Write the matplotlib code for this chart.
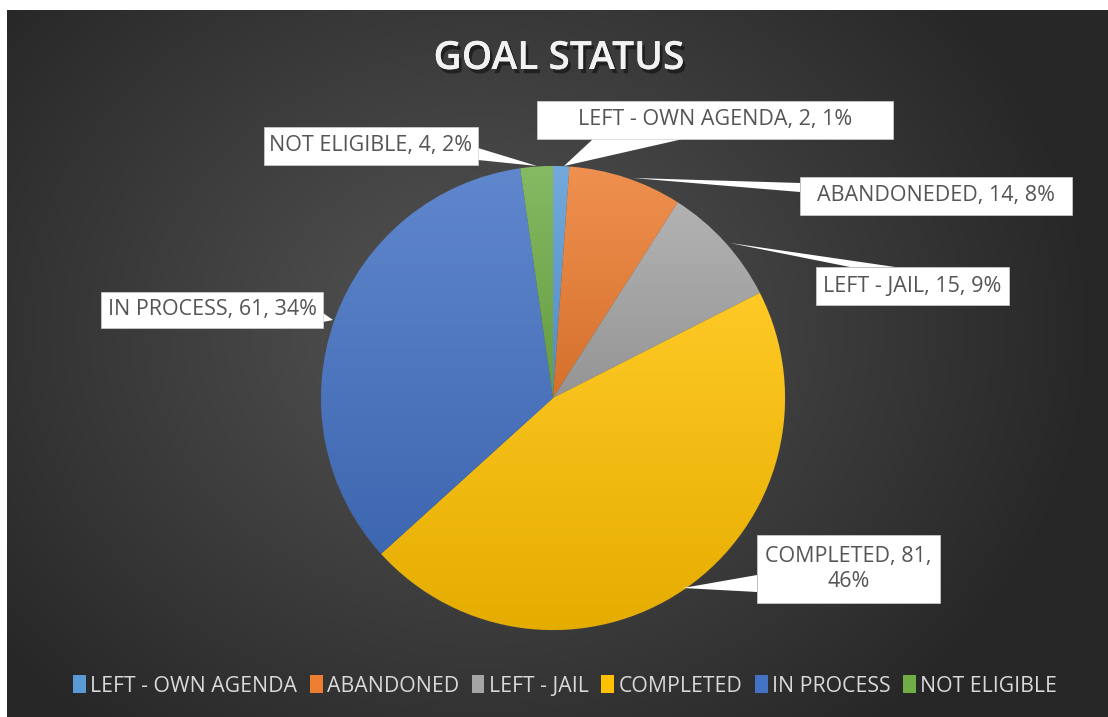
import numpy as np
import matplotlib
matplotlib.use("Agg")
import matplotlib.pyplot as plt
from matplotlib.patches import Polygon, Rectangle
from matplotlib import patheffects as pe
from matplotlib.colors import to_rgb

# ---- data ----
categories = ["LEFT - OWN AGENDA", "ABANDONED", "LEFT - JAIL", "COMPLETED", "IN PROCESS", "NOT ELIGIBLE"]
label_names = ["LEFT - OWN AGENDA", "ABANDONEDED", "LEFT - JAIL", "COMPLETED", "IN PROCESS", "NOT ELIGIBLE"]
values = [2, 14, 15, 81, 61, 4]
percents = ["1%", "8%", "9%", "46%", "34%", "2%"]
title = "GOAL STATUS"

colors = ["#5B9BD5", "#ED7D31", "#A5A5A5", "#FFC000", "#4472C4", "#70AD47"]

W, H = 1108, 717
fig = plt.figure(figsize=(W / 100, H / 100), dpi=100)
fig.patch.set_facecolor("white")
ax = fig.add_axes([0, 0, 1, 1])
ax.set_xlim(0, W)
ax.set_ylim(0, H)
ax.axis("off")

def Y(y):
    return H - y

# background radial gradient
bx0, bx1, by0, by1 = 7, W, 10, H
gx = np.linspace(bx0, bx1, 400)
gy = np.linspace(by0, by1, 300)
GX, GY = np.meshgrid(gx, gy)
cx, cy = 480, 330
d = np.sqrt(((GX - cx) / 620) ** 2 + ((GY - cy) / 520) ** 2)
d = np.clip(d, 0, 1)
c_in = np.array(to_rgb("#555555"))
c_out = np.array(to_rgb("#272727"))
img = c_in[None, None, :] * (1 - d[..., None]) + c_out[None, None, :] * d[..., None]
ax.imshow(img, extent=(bx0, bx1, Y(by1), Y(by0)), origin="upper", aspect="auto", zorder=0)

# pie
center = (553, Y(398))
radius = 232
wedges, _ = ax.pie(values, colors=colors, startangle=90, counterclock=False,
                   center=center, radius=radius, frame=True,
                   wedgeprops=dict(linewidth=0.6, edgecolor="#4a4a4a"))
ax.set_xlim(0, W)
ax.set_ylim(0, H)
ax.set_aspect("equal")
ax.axis("off")

def shade(c, f):
    c = np.array(to_rgb(c))
    if f >= 0:
        return c + (1 - c) * f
    return c * (1 + f)

for w, c in zip(wedges, colors):
    w.set_zorder(2)
    ext = w.get_path().get_extents(w.get_patch_transform())
    x0, y0, x1, y1 = ext.x0, ext.y0, ext.x1, ext.y1
    top = shade(c, 0.15)
    bot = shade(c, -0.10)
    t = np.linspace(0, 1, 256)[:, None, None]
    grad = top[None, None, :] * (1 - t) + bot[None, None, :] * t
    im = ax.imshow(grad, extent=(x0, x1, y0, y1), origin="upper", aspect="auto", zorder=2.5)
    im.set_clip_path(w)
ax.set_xlim(0, W)
ax.set_ylim(0, H)

# title
ax.text(559, Y(59), title, ha="center", va="center", fontsize=28, fontweight="semibold",
        color="#F2F2F2", family="Open Sans",
        path_effects=[pe.withSimplePatchShadow(offset=(2, -3), shadow_rgbFace="black", alpha=0.45), pe.Normal()],
        zorder=10)

# callouts: box (x0, y0, x1, y1) in pixels, pointer base points and tip
callouts = [
    ((537, 101, 893, 139), [(593, 139), (683, 139)], (564, 166)),
    ((800, 177, 1072, 215), [(800, 183), (800, 192)], (633, 178)),
    ((816, 267, 1009, 305), [(850, 267), (895, 267)], (730, 243)),
    ((757, 535, 940, 603), [(757, 575), (757, 592)], (683, 588)),
    ((101, 292, 323, 328), [(323, 313), (323, 322)], (333, 320)),
    ((264, 127, 478, 165), [(478, 148), (478, 160)], (537, 166)),
]

for i, ((x0, y0, x1, y1), base, tip) in enumerate(callouts):
    tri = Polygon([(base[0][0], Y(base[0][1])), (tip[0], Y(tip[1])), (base[1][0], Y(base[1][1]))],
                  closed=True, facecolor="white", edgecolor="none", zorder=6)
    ax.add_patch(tri)
    rect = Rectangle((x0, Y(y1)), x1 - x0, y1 - y0, facecolor="white", edgecolor="#d0d0d0",
                     linewidth=0.5, zorder=6)
    ax.add_patch(rect)
    if label_names[i] == "COMPLETED":
        txt = f"{label_names[i]}, {values[i]},\n{percents[i]}"
    else:
        txt = f"{label_names[i]}, {values[i]}, {percents[i]}"
    ax.text((x0 + x1) / 2, Y((y0 + y1) / 2), txt, ha="center", va="center", fontsize=15.5,
            color="#555555", family="Open Sans", linespacing=1.3, zorder=7)

# legend
handles = [Rectangle((0, 0), 1, 1, facecolor=c) for c in colors]
leg = ax.legend(handles, categories, loc="center", bbox_to_anchor=(565 / W, 1 - 686 / H),
                ncol=6, frameon=False, fontsize=15.3, handlelength=0.6, handleheight=0.9,
                handletextpad=0.2, columnspacing=0.6, borderaxespad=0)
for t in leg.get_texts():
    t.set_color("#D9D9D9")
    t.set_family("Open Sans")

fig.savefig("out.png", dpi=100, facecolor="white")
